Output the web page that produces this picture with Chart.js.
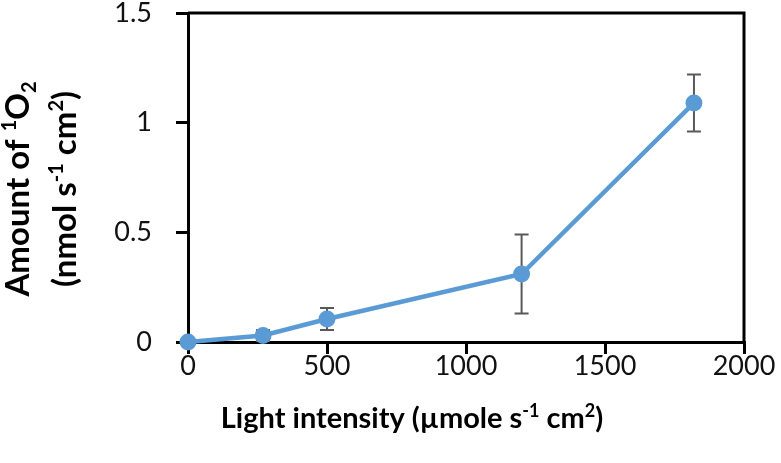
<!DOCTYPE html>
<html>
<head>
<meta charset="utf-8">
<script src="https://cdn.jsdelivr.net/npm/chart.js@4.4.1/dist/chart.umd.min.js"></script>
<style>
  html, body { margin: 0; padding: 0; background: #fff; }
  #wrap { width: 781px; height: 463px; position: relative; }
</style>
</head>
<body>
<div id="wrap"><canvas id="chart"></canvas></div>
<script>
// light intensity (x) and 1O2 amount (y) with error bars
var intensity = [0, 270, 500, 1200, 1820];
var amount = [0, 0.03, 0.105, 0.31, 1.09];
var amountErr = [0, 0.025, 0.05, 0.18, 0.13];
var xTicks = [0, 500, 1000, 1500, 2000];
var yTicks = [0, 0.5, 1, 1.5];

var FONT = 'Lato, "Liberation Sans", sans-serif';
var blue = '#5b9bd5';

// draws text made of pieces, some raised or lowered
function richWidth(ctx, parts, size) {
  var w = 0;
  parts.forEach(function (p) {
    ctx.font = 'bold ' + (p.s ? Math.round(size * 0.62) : size) + 'px ' + FONT;
    w += ctx.measureText(p.t).width;
  });
  return w;
}
function drawRich(ctx, parts, cx, baseY, size) {
  var x = cx - richWidth(ctx, parts, size) / 2;
  ctx.textAlign = 'left';
  ctx.textBaseline = 'alphabetic';
  parts.forEach(function (p) {
    var sz = p.s ? Math.round(size * 0.62) : size;
    ctx.font = 'bold ' + sz + 'px ' + FONT;
    var dy = p.s === 'up' ? -size * 0.38 : (p.s === 'down' ? size * 0.2 : 0);
    ctx.fillText(p.t, x, baseY + dy);
    x += ctx.measureText(p.t).width;
  });
}

var xTitle = [{t: 'Light intensity (\u00b5mole s'}, {t: '-1', s: 'up'}, {t: ' cm'}, {t: '2', s: 'up'}, {t: ')'}];
var yTitle1 = [{t: 'Amount of '}, {t: '1', s: 'up'}, {t: 'O'}, {t: '2', s: 'down'}];
var yTitle2 = [{t: '(nmol s'}, {t: '-1', s: 'up'}, {t: ' cm'}, {t: '2', s: 'up'}, {t: ')'}];

var extras = {
  id: 'extras',
  beforeDatasetsDraw: function (chart) {
    var ctx = chart.ctx, a = chart.chartArea;
    var xs = chart.scales.x, ys = chart.scales.y;
    ctx.save();
    // box around the plot
    ctx.strokeStyle = '#000';
    ctx.lineWidth = 3;
    ctx.beginPath();
    ctx.moveTo(a.left, a.top);
    ctx.lineTo(a.right, a.top);
    ctx.lineTo(a.right, a.bottom);
    ctx.stroke();
    // error bars
    ctx.strokeStyle = '#595959';
    ctx.lineWidth = 2;
    for (var i = 0; i < intensity.length; i++) {
      if (!amountErr[i]) continue;
      var px = xs.getPixelForValue(intensity[i]);
      var top = ys.getPixelForValue(amount[i] + amountErr[i]);
      var bot = ys.getPixelForValue(amount[i] - amountErr[i]);
      ctx.beginPath();
      ctx.moveTo(px, top); ctx.lineTo(px, bot);
      ctx.moveTo(px - 7, top); ctx.lineTo(px + 7, top);
      ctx.moveTo(px - 7, bot); ctx.lineTo(px + 7, bot);
      ctx.stroke();
    }
    ctx.restore();
  },
  afterDraw: function (chart) {
    var ctx = chart.ctx;
    ctx.save();
    ctx.fillStyle = '#000';
    drawRich(ctx, xTitle, 412, 428, 29);
    ctx.translate(0, 189);
    ctx.rotate(-Math.PI / 2);
    drawRich(ctx, yTitle1, 0, 29, 33);
    drawRich(ctx, yTitle2, 0, 76, 33);
    ctx.restore();
  }
};

var ctx = document.getElementById('chart').getContext('2d');
new Chart(ctx, {
  type: 'scatter',
  data: {
    datasets: [{
      data: intensity.map(function (v, i) { return {x: v, y: amount[i]}; }),
      showLine: true,
      clip: false,
      borderColor: blue,
      backgroundColor: blue,
      borderWidth: 4.5,
      pointRadius: 8.5,
      pointHoverRadius: 8.5,
      pointBorderWidth: 0
    }]
  },
  options: {
    responsive: true,
    maintainAspectRatio: false,
    animation: false,
    layout: { padding: { top: 13, right: 37, left: 0, bottom: 0 } },
    plugins: { legend: { display: false }, tooltip: { enabled: false } },
    scales: {
      x: {
        type: 'linear',
        min: 0, max: 2000,
        afterFit: function (s) { s.height = 121; s.paddingLeft = 0; s.paddingRight = 0; },
        afterBuildTicks: function (s) { s.ticks = xTicks.map(function (v) { return {value: v}; }); },
        ticks: {
          padding: -4,
          color: '#111',
          font: { family: FONT, size: 27 },
          callback: function (v) { return String(v); }
        },
        grid: { drawOnChartArea: false, drawTicks: true, tickLength: 12, color: '#000', lineWidth: 3 },
        border: { color: '#000', width: 3 }
      },
      y: {
        min: 0, max: 1.5,
        afterFit: function (s) { s.width = 188; s.paddingTop = 0; s.paddingBottom = 0; },
        afterBuildTicks: function (s) { s.ticks = yTicks.map(function (v) { return {value: v}; }); },
        ticks: {
          padding: 24,
          color: '#111',
          font: { family: FONT, size: 27 },
          callback: function (v) { return String(v); }
        },
        grid: { drawOnChartArea: false, drawTicks: true, tickLength: 12, color: '#000', lineWidth: 3 },
        border: { color: '#000', width: 3 }
      }
    }
  },
  plugins: [extras]
});
</script>
</body>
</html>
